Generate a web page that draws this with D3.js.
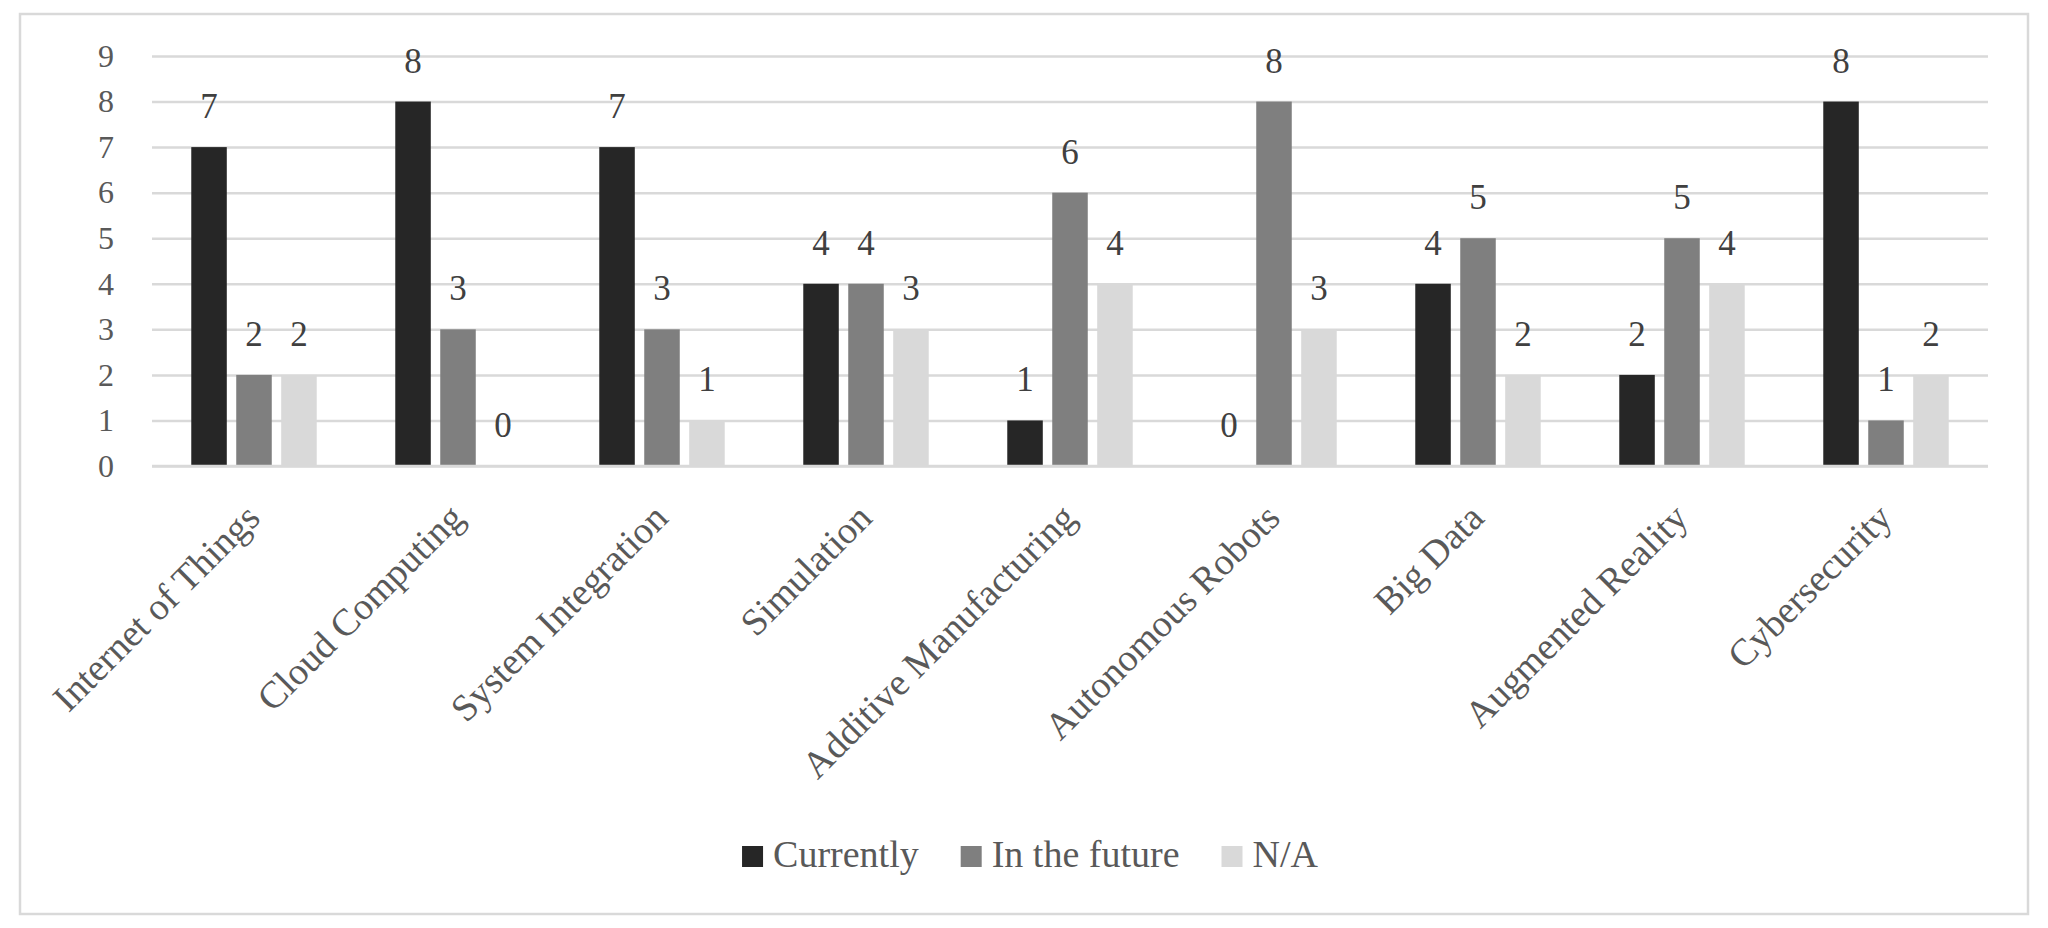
<!DOCTYPE html>
<html>
<head>
<meta charset="utf-8">
<script src="https://cdn.jsdelivr.net/npm/d3@7"></script>
<style>
  html, body { margin: 0; padding: 0; background: #ffffff; }
  svg { display: block; }
</style>
</head>
<body>
<script>
const categories = ["Internet of Things", "Cloud Computing", "System Integration", "Simulation",
  "Additive Manufacturing", "Autonomous Robots", "Big Data", "Augmented Reality", "Cybersecurity"];
const seriesNames = ["Currently", "In the future", "N/A"];
const currently = [7, 8, 7, 4, 1, 0, 4, 2, 8];
const inTheFuture = [2, 3, 3, 4, 6, 8, 5, 5, 1];
const notApplicable = [2, 0, 1, 3, 4, 3, 2, 4, 2];
const yTicks = [0, 1, 2, 3, 4, 5, 6, 7, 8, 9];
const seriesColors = ["#262626", "#7f7f7f", "#d9d9d9"];

const seriesValues = [currently, inTheFuture, notApplicable];
const W = 2048, H = 928;
const FONT = "'Palatino Linotype', 'Book Antiqua', Palatino, 'Liberation Serif', serif";

const svg = d3.select("body").append("svg").attr("width", W).attr("height", H);
svg.append("rect").attr("width", W).attr("height", H).attr("fill", "#fff");

// outer border
svg.append("rect").attr("x", 20).attr("y", 14).attr("width", 2008).attr("height", 900)
  .attr("fill", "none").attr("stroke", "#d9d9d9").attr("stroke-width", 2.5);

const plot = { left: 152, right: 1988, top: 56, bottom: 466 };

const y = d3.scaleLinear().domain([0, 9]).range([plot.bottom, plot.top]);
const x0 = d3.scaleBand().domain(categories).range([plot.left, plot.right])
  .paddingInner(0.385).paddingOuter(0.1925);
const x1 = d3.scaleBand().domain(seriesNames).range([0, x0.bandwidth()]).paddingInner(0.21);
const color = d3.scaleOrdinal().domain(seriesNames).range(seriesColors);

// gridlines + y tick labels
const yAxis = d3.axisLeft(y).tickValues(yTicks).tickSize(-(plot.right - plot.left)).tickPadding(38)
  .tickFormat(d3.format("d"));
const gy = svg.append("g").attr("transform", `translate(${plot.left},0)`).call(yAxis);
gy.select(".domain").remove();
gy.selectAll(".tick line").attr("stroke", "#d9d9d9").attr("stroke-width", 2.5);
gy.selectAll(".tick text").attr("font-family", FONT).attr("font-size", 32).attr("fill", "#595959");

// data table
const rows = categories.map((c, i) => ({
  cat: c,
  vals: seriesNames.map((s, j) => ({ series: s, value: seriesValues[j][i], cat: c }))
}));

const groups = svg.append("g").selectAll("g").data(rows).join("g")
  .attr("transform", d => `translate(${x0(d.cat)},0)`);

groups.selectAll("rect").data(d => d.vals).join("rect")
  .attr("x", d => x1(d.series))
  .attr("y", d => y(d.value))
  .attr("width", x1.bandwidth())
  .attr("height", d => y(0) - y(d.value))
  .attr("fill", d => color(d.series));

groups.selectAll("text.val").data(d => d.vals).join("text")
  .attr("class", "val")
  .attr("x", d => x1(d.series) + x1.bandwidth() / 2)
  .attr("y", d => y(d.value) - 29)
  .attr("text-anchor", "middle")
  .attr("font-family", FONT).attr("font-size", 35).attr("fill", "#404040")
  .text(d => d.value);

// category labels (rotated)
const xAxis = d3.axisBottom(x0).tickSize(0).tickPadding(0);
const gx = svg.append("g").attr("transform", `translate(0,${plot.bottom})`).call(xAxis);
gx.select(".domain").attr("stroke", "#d9d9d9").attr("stroke-width", 2.5)
  .attr("d", `M${plot.left},0H${plot.right}`);
gx.selectAll(".tick text")
  .attr("font-family", FONT).attr("font-size", 38).attr("fill", "#595959")
  .attr("text-anchor", "end")
  .attr("dy", null).attr("y", null)
  .attr("transform", "translate(8,54) rotate(-45)");

// legend
const legend = svg.append("g");
const items = legend.selectAll("g").data(seriesNames).join("g");
items.append("rect").attr("width", 21).attr("height", 21).attr("y", 846)
  .attr("fill", d => color(d));
items.append("text").attr("y", 867).attr("font-family", FONT).attr("font-size", 38)
  .attr("fill", "#595959").text(d => d);
let widths = [];
items.each(function () { widths.push(this.querySelector("text").getComputedTextLength()); });
const sq = 21, gapT = 10, gapI = 42;
const total = d3.sum(widths) + seriesNames.length * (sq + gapT) + gapI * (seriesNames.length - 1);
let cx = 1030 - total / 2;
items.each(function (d, i) {
  const g = d3.select(this);
  g.select("rect").attr("x", cx);
  g.select("text").attr("x", cx + sq + gapT);
  cx += sq + gapT + widths[i] + gapI;
});
</script>
</body>
</html>
